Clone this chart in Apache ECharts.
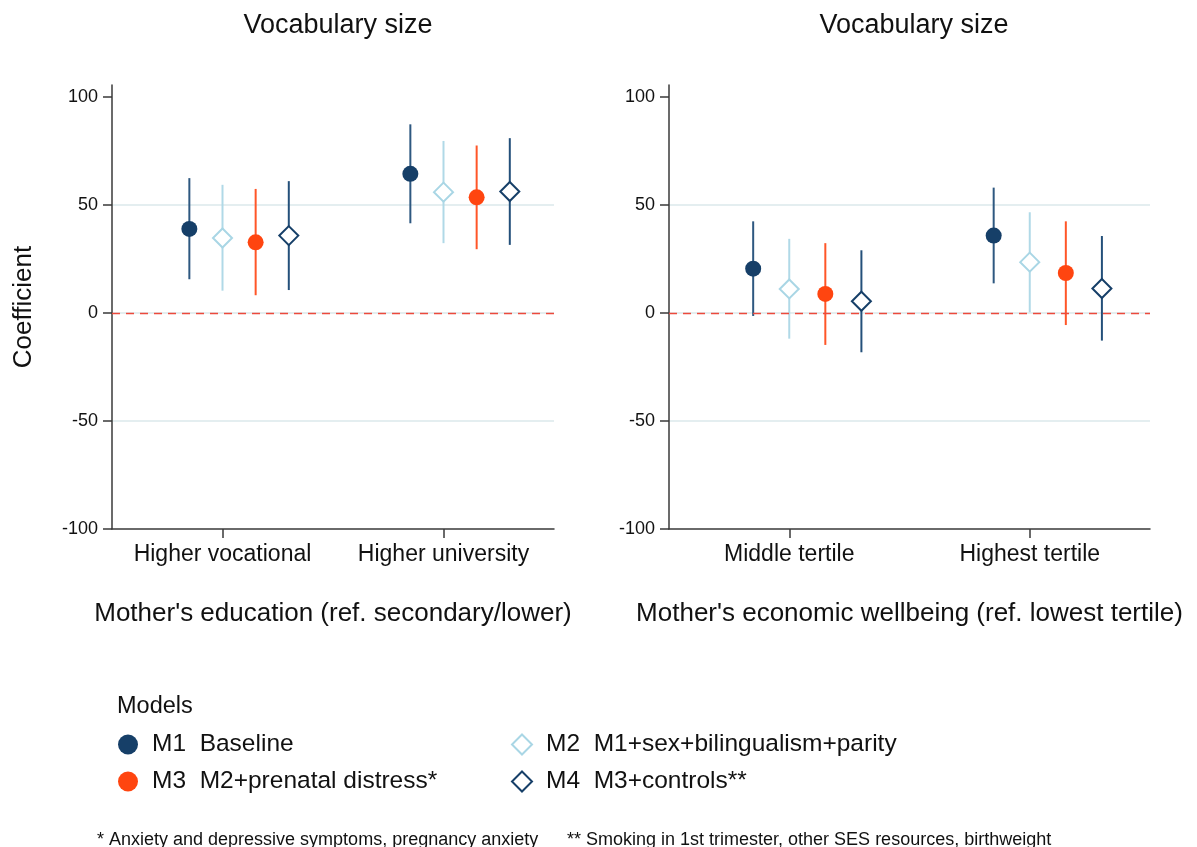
<!DOCTYPE html>
<html>
<head>
<meta charset="utf-8">
<script src="https://cdn.jsdelivr.net/npm/echarts@6/dist/echarts.min.js"></script>
<style>
  html, body { margin: 0; padding: 0; background: #fff; }
  #chart { width: 1197px; height: 847px; }
</style>
</head>
<body>
<div id="chart"></div>
<script>
// categories of each panel
var eduCats = ['Higher vocational', 'Higher university'];
var ewbCats = ['Middle tertile', 'Highest tertile'];
var models = ['M1  Baseline', 'M2  M1+sex+bilingualism+parity', 'M3  M2+prenatal distress*', 'M4  M3+controls**'];

// mother's education: one row per model, one value per category
var eduEst = [[38.9, 64.4], [34.7, 55.9], [32.7, 53.5], [35.8, 56.2]];
var eduLo  = [[15.6, 41.5], [10.3, 32.3], [8.2, 29.5], [10.6, 31.5]];
var eduHi  = [[62.4, 87.3], [59.3, 79.6], [57.4, 77.5], [61.0, 80.9]];

// mother's economic wellbeing
var ewbEst = [[20.5, 35.8], [11.1, 23.5], [8.8, 18.5], [5.4, 11.3]];
var ewbLo  = [[-1.4, 13.7], [-11.9, 0.3], [-14.8, -5.6], [-18.2, -12.8]];
var ewbHi  = [[42.4, 58.0], [34.3, 46.6], [32.3, 42.4], [29.0, 35.6]];

var yTicks = [-100, -50, 0, 50, 100];

var offsets = [-0.3, 0, 0.3, 0.6];
var dotColor = ['#163f68', '#a9d6e5', '#ff4510', '#163f68'];
var lineColor = ['#2e5880', '#b0d9e7', '#ff5628', '#24507a'];
var symbols = ['circle', 'diamond', 'circle', 'diamond'];
var hollow = [false, true, false, true];

var font = 'Liberation Sans, Arial, Helvetica, sans-serif';

var chart = echarts.init(document.getElementById('chart'));

function xAxisFor(gi, cats, title) {
    return {
        type: 'value', gridIndex: gi, min: 0, max: 4,
        axisLine: {show: true, onZero: false, lineStyle: {color: '#3a3a3a', width: 1.5}},
        axisTick: {show: true, length: 9, customValues: [1, 3], lineStyle: {color: '#3a3a3a', width: 1.5}},
        axisLabel: {
            customValues: [1, 3], margin: 14, fontSize: 23, color: '#111', fontFamily: font,
            formatter: function (v) { return cats[(v - 1) / 2]; }
        },
        splitLine: {show: false},
        name: title, nameLocation: 'middle', nameGap: 72,
        nameTextStyle: {fontSize: 26, color: '#111', fontFamily: font}
    };
}

function yAxisFor(gi, name) {
    return {
        type: 'value', gridIndex: gi, min: -100, max: 105.5,
        axisLine: {show: true, onZero: false, lineStyle: {color: '#3a3a3a', width: 1.5}},
        axisTick: {show: true, length: 9, customValues: yTicks, lineStyle: {color: '#3a3a3a', width: 1.5}},
        axisLabel: {customValues: yTicks, margin: 14, fontSize: 18, color: '#111', fontFamily: font},
        splitLine: {show: true, showMinLine: false, showMaxLine: false, lineStyle: {color: '#e4eef0', width: 2}},
        name: name, nameLocation: 'middle', nameGap: 75, nameRotate: 90,
        nameTextStyle: {fontSize: 26, color: '#111', fontFamily: font}
    };
}

var series = [];
function addPanel(gi, est, lo, hi) {
    for (var m = 0; m < 4; m++) {
        var ci = [], pts = [];
        for (var i = 0; i < 2; i++) {
            var x = 1 + 2 * i + offsets[m];
            ci.push([x, lo[m][i], hi[m][i]]);
            pts.push([x, est[m][i]]);
        }
        (function (col) {
            series.push({
                type: 'custom', name: 'ci' + gi + m, xAxisIndex: gi, yAxisIndex: gi,
                encode: {x: 0, y: [1, 2]}, z: 3, silent: true,
                renderItem: function (params, api) {
                    var a = api.coord([api.value(0), api.value(1)]);
                    var b = api.coord([api.value(0), api.value(2)]);
                    return {type: 'line', shape: {x1: a[0], y1: a[1], x2: b[0], y2: b[1]},
                            style: {stroke: col, lineWidth: 2}};
                },
                data: ci
            });
        })(lineColor[m]);
        series.push({
            type: 'scatter', name: models[m], xAxisIndex: gi, yAxisIndex: gi, z: 5,
            symbol: symbols[m], symbolSize: hollow[m] ? 19 : 16,
            itemStyle: hollow[m]
                ? {color: '#fff', borderColor: dotColor[m], borderWidth: 2, opacity: 1}
                : {color: dotColor[m], opacity: 1},
            data: pts
        });
    }
    // zero reference line
    series.push({
        type: 'line', xAxisIndex: gi, yAxisIndex: gi, data: [], z: 2,
        markLine: {
            silent: true, symbol: 'none', label: {show: false},
            lineStyle: {color: '#ec4a3c', width: 1.4, type: [8, 6]},
            data: [{yAxis: 0}]
        }
    });
}
addPanel(0, eduEst, eduLo, eduHi);
addPanel(1, ewbEst, ewbLo, ewbHi);

function legendItem(m) {
    var it = {name: models[m], icon: symbols[m]};
    if (hollow[m]) it.itemStyle = {color: '#fff', borderColor: dotColor[m], borderWidth: 2, opacity: 1};
    else it.itemStyle = {color: dotColor[m], opacity: 1};
    return it;
}

var legendText = {fontSize: 24.5, color: '#111', fontFamily: font, padding: [0, 0, 0, 9]};

chart.setOption({
    animation: false,
    backgroundColor: '#fff',
    title: [
        {text: 'Vocabulary size', left: 333, top: 7, textAlign: 'center',
         textStyle: {fontSize: 27, fontWeight: 'normal', color: '#111', fontFamily: font}},
        {text: 'Vocabulary size', left: 909, top: 7, textAlign: 'center',
         textStyle: {fontSize: 27, fontWeight: 'normal', color: '#111', fontFamily: font}},
        {text: 'Models', left: 112, top: 690,
         textStyle: {fontSize: 23.5, fontWeight: 'normal', color: '#111', fontFamily: font}},
        {text: '* Anxiety and depressive symptoms, pregnancy anxiety', left: 92, top: 826,
         textStyle: {fontSize: 18, fontWeight: 'normal', color: '#111', fontFamily: font}},
        {text: '** Smoking in 1st trimester, other SES resources, birthweight', left: 562, top: 826,
         textStyle: {fontSize: 18, fontWeight: 'normal', color: '#111', fontFamily: font}}
    ],
    legend: [
        {orient: 'vertical', left: 118, top: 732, itemWidth: 20, itemHeight: 20, itemGap: 12,
         padding: 0, textStyle: legendText, selectedMode: false,
         data: [legendItem(0), legendItem(2)]},
        {orient: 'vertical', left: 511, top: 732, itemWidth: 20, itemHeight: 20, itemGap: 12,
         padding: 0, textStyle: legendText, selectedMode: false,
         data: [legendItem(1), legendItem(3)]}
    ],
    grid: [
        {left: 112, right: 643, top: 85, bottom: 318},
        {left: 669, right: 47, top: 85, bottom: 318}
    ],
    xAxis: [
        xAxisFor(0, eduCats, "Mother's education (ref. secondary/lower)"),
        xAxisFor(1, ewbCats, "Mother's economic wellbeing (ref. lowest tertile)")
    ],
    yAxis: [yAxisFor(0, 'Coefficient'), yAxisFor(1, '')],
    series: series
});
</script>
</body>
</html>
